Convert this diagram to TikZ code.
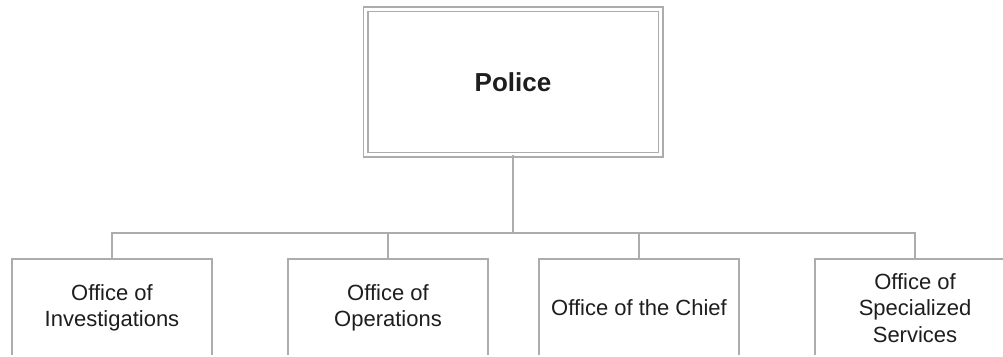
\documentclass[tikz,border=0pt]{standalone}
\usepackage{fontspec}
\setmainfont{Liberation Sans}
\definecolor{linegray}{RGB}{172,172,172}
\definecolor{textdark}{RGB}{30,30,30}
\begin{document}
\begin{tikzpicture}[x=1pt,y=-1pt,
  conn/.style={draw=linegray,line width=1.7pt},
  topbox/.style={draw=linegray,line width=1.5pt,double=white,double distance=3pt,
    minimum width=295pt,minimum height=145.5pt,inner sep=0pt,
    font=\fontsize{26}{30}\selectfont\bfseries,text=textdark},
  office/.style={draw=linegray,line width=1.7pt,minimum width=200pt,minimum height=98pt,
    inner sep=0pt,anchor=north,align=center,text=textdark,
    font=\fontsize{22}{26.3}\selectfont}]
\useasboundingbox (0,0) rectangle (1003,356);
\fill[white] (0,0) rectangle (1003,356);
\clip (0,0) rectangle (1003,354.6);
\node[topbox] (police) at (513,81.75) {Police};
\node[office] (inv) at (112,258) {Office of\\Investigations};
\node[office] (ops) at (388,258) {Office of\\Operations};
\node[office] (chief) at (639,258) {Office of the Chief};
\node[office] (spec) at (915,258) {Office of\\Specialized\\Services};
\coordinate (bus) at (513,233);
\draw[conn] (police.south) -- (bus);
\draw[conn] (inv.north) |- (bus) -| (spec.north);
\draw[conn] (ops.north) -- (ops.north |- bus);
\draw[conn] (chief.north) -- (chief.north |- bus);
\end{tikzpicture}
\end{document}
